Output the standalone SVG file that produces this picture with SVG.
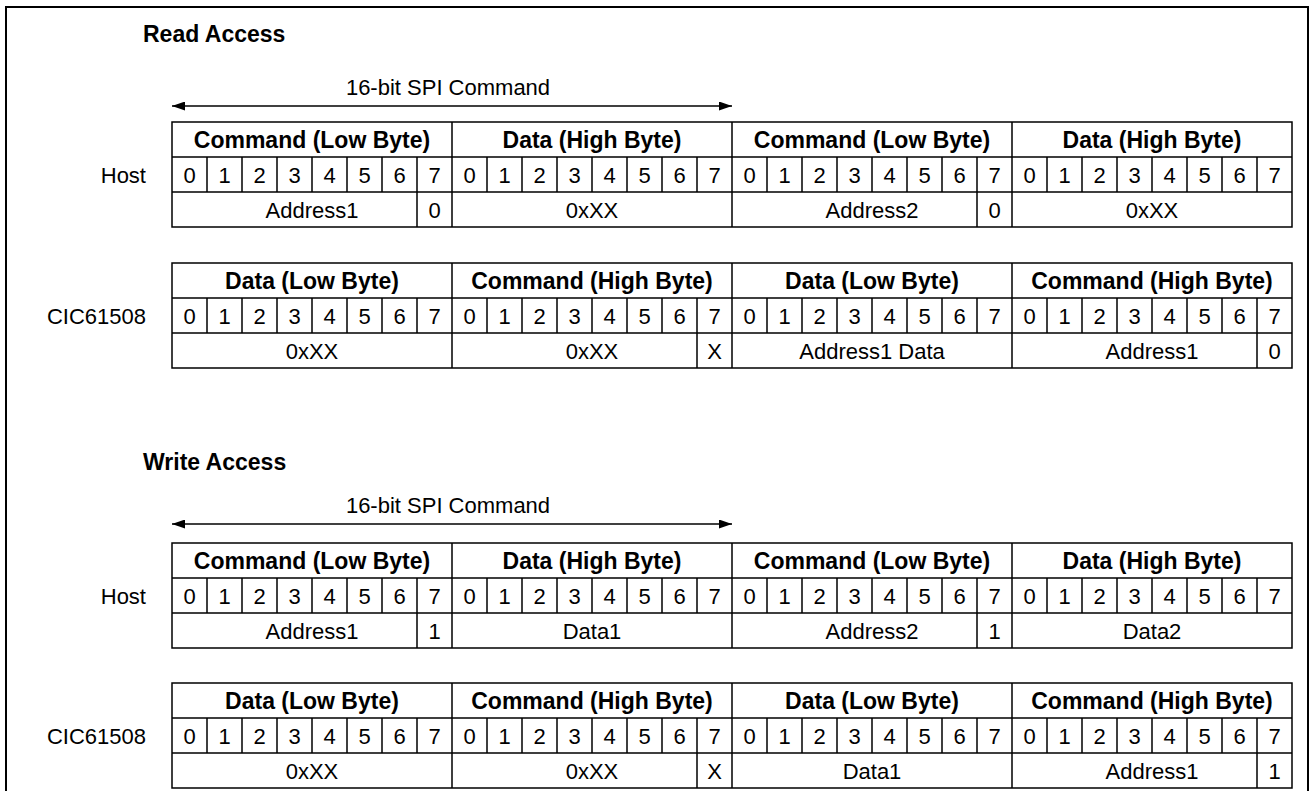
<svg xmlns="http://www.w3.org/2000/svg" xmlns:xlink="http://www.w3.org/1999/xlink" width="1313" height="791" viewBox="0 0 1313 791">
<style>
.frame{fill:none;stroke:#000;stroke-width:2}
.grid{fill:none;stroke:#000;stroke-width:1.5}
.conn{fill:none;stroke:#000;stroke-width:1.5}
text{font-family:"Liberation Sans",Arial,Helvetica,sans-serif;fill:#000}
.t{font-size:22px;text-anchor:middle}
.h{font-size:23px;font-weight:bold;text-anchor:middle}
.lbl{font-size:22px;text-anchor:end}
.title{font-size:23px;font-weight:bold}
.cap{font-size:22px;text-anchor:middle}
</style>
<defs>
<marker id="ah" viewBox="0 0 13 9" refX="13" refY="4.5" markerWidth="13" markerHeight="9" markerUnits="userSpaceOnUse" orient="auto-start-reverse"><path d="M0,0 L13,4.5 L0,9 z" fill="#000"/></marker>
<g id="bitrow">
<path class="grid" d="M207 0V35M242 0V35M277 0V35M312 0V35M347 0V35M382 0V35M417 0V35M487 0V35M522 0V35M557 0V35M592 0V35M627 0V35M662 0V35M697 0V35M767 0V35M802 0V35M837 0V35M872 0V35M907 0V35M942 0V35M977 0V35M1047 0V35M1082 0V35M1117 0V35M1152 0V35M1187 0V35M1222 0V35M1257 0V35"/>
<text class="t" x="189.5" y="26">0</text><text class="t" x="224.5" y="26">1</text><text class="t" x="259.5" y="26">2</text><text class="t" x="294.5" y="26">3</text><text class="t" x="329.5" y="26">4</text><text class="t" x="364.5" y="26">5</text><text class="t" x="399.5" y="26">6</text><text class="t" x="434.5" y="26">7</text>
<text class="t" x="469.5" y="26">0</text><text class="t" x="504.5" y="26">1</text><text class="t" x="539.5" y="26">2</text><text class="t" x="574.5" y="26">3</text><text class="t" x="609.5" y="26">4</text><text class="t" x="644.5" y="26">5</text><text class="t" x="679.5" y="26">6</text><text class="t" x="714.5" y="26">7</text>
<text class="t" x="749.5" y="26">0</text><text class="t" x="784.5" y="26">1</text><text class="t" x="819.5" y="26">2</text><text class="t" x="854.5" y="26">3</text><text class="t" x="889.5" y="26">4</text><text class="t" x="924.5" y="26">5</text><text class="t" x="959.5" y="26">6</text><text class="t" x="994.5" y="26">7</text>
<text class="t" x="1029.5" y="26">0</text><text class="t" x="1064.5" y="26">1</text><text class="t" x="1099.5" y="26">2</text><text class="t" x="1134.5" y="26">3</text><text class="t" x="1169.5" y="26">4</text><text class="t" x="1204.5" y="26">5</text><text class="t" x="1239.5" y="26">6</text><text class="t" x="1274.5" y="26">7</text>
</g>
<path id="tablegrid" class="grid" d="M172 0H1292V105H172ZM172 35H1292M172 70H1292M452 0V105M732 0V105M1012 0V105"/>
</defs>

<rect class="frame" x="6" y="7" width="1302" height="830"/>

<text class="title" x="143" y="42">Read Access</text>
<text class="cap" x="448" y="95">16-bit SPI Command</text>

<g id="read-host" transform="translate(0,122)">
<use xlink:href="#tablegrid" href="#tablegrid"/>
<use xlink:href="#bitrow" href="#bitrow" y="35"/>
<path class="grid" d="M417 70V105M977 70V105"/>
<text class="lbl" x="146" y="61">Host</text>
<text class="h" x="312" y="26">Command (Low Byte)</text><text class="h" x="592" y="26">Data (High Byte)</text><text class="h" x="872" y="26">Command (Low Byte)</text><text class="h" x="1152" y="26">Data (High Byte)</text>
<text class="t" x="312" y="96">Address1</text><text class="t" x="434.5" y="96">0</text><text class="t" x="592" y="96">0xXX</text><text class="t" x="872" y="96">Address2</text><text class="t" x="994.5" y="96">0</text><text class="t" x="1152" y="96">0xXX</text>
</g>

<g id="read-cic" transform="translate(0,263)">
<use xlink:href="#tablegrid" href="#tablegrid"/>
<use xlink:href="#bitrow" href="#bitrow" y="35"/>
<path class="grid" d="M697 70V105M1257 70V105"/>
<text class="lbl" x="146" y="61">CIC61508</text>
<text class="h" x="312" y="26">Data (Low Byte)</text><text class="h" x="592" y="26">Command (High Byte)</text><text class="h" x="872" y="26">Data (Low Byte)</text><text class="h" x="1152" y="26">Command (High Byte)</text>
<text class="t" x="312" y="96">0xXX</text><text class="t" x="592" y="96">0xXX</text><text class="t" x="714.5" y="96">X</text><text class="t" x="872" y="96">Address1 Data</text><text class="t" x="1152" y="96">Address1</text><text class="t" x="1274.5" y="96">0</text>
</g>

<text class="title" x="143" y="470">Write Access</text>
<text class="cap" x="448" y="513">16-bit SPI Command</text>

<g id="write-host" transform="translate(0,543)">
<use xlink:href="#tablegrid" href="#tablegrid"/>
<use xlink:href="#bitrow" href="#bitrow" y="35"/>
<path class="grid" d="M417 70V105M977 70V105"/>
<text class="lbl" x="146" y="61">Host</text>
<text class="h" x="312" y="26">Command (Low Byte)</text><text class="h" x="592" y="26">Data (High Byte)</text><text class="h" x="872" y="26">Command (Low Byte)</text><text class="h" x="1152" y="26">Data (High Byte)</text>
<text class="t" x="312" y="96">Address1</text><text class="t" x="434.5" y="96">1</text><text class="t" x="592" y="96">Data1</text><text class="t" x="872" y="96">Address2</text><text class="t" x="994.5" y="96">1</text><text class="t" x="1152" y="96">Data2</text>
</g>

<g id="write-cic" transform="translate(0,683)">
<use xlink:href="#tablegrid" href="#tablegrid"/>
<use xlink:href="#bitrow" href="#bitrow" y="35"/>
<path class="grid" d="M697 70V105M1257 70V105"/>
<text class="lbl" x="146" y="61">CIC61508</text>
<text class="h" x="312" y="26">Data (Low Byte)</text><text class="h" x="592" y="26">Command (High Byte)</text><text class="h" x="872" y="26">Data (Low Byte)</text><text class="h" x="1152" y="26">Command (High Byte)</text>
<text class="t" x="312" y="96">0xXX</text><text class="t" x="592" y="96">0xXX</text><text class="t" x="714.5" y="96">X</text><text class="t" x="872" y="96">Data1</text><text class="t" x="1152" y="96">Address1</text><text class="t" x="1274.5" y="96">1</text>
</g>

<g id="connectors">
<line class="conn" x1="172" y1="106" x2="732" y2="106" marker-start="url(#ah)" marker-end="url(#ah)"/>
<line class="conn" x1="172" y1="524" x2="732" y2="524" marker-start="url(#ah)" marker-end="url(#ah)"/>
</g>
</svg>
